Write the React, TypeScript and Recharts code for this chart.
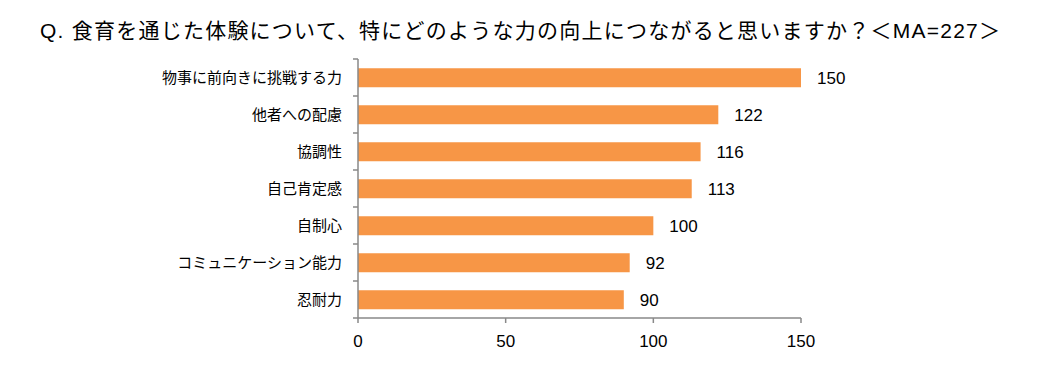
import React from "react";
import { Bar, BarChart, LabelList, XAxis, YAxis } from "recharts";

const title =
  "Q. 食育を通じた体験について、特にどのような力の向上につながると思いますか？＜MA=227＞";
const categories = [
  "物事に前向きに挑戦する力",
  "他者への配慮",
  "協調性",
  "自己肯定感",
  "自制心",
  "コミュニケーション能力",
  "忍耐力",
];
const counts = [150, 122, 116, 113, 100, 92, 90];
const xTicks = [0, 50, 100, 150];

const W = 1042;
const H = 370;
const xAxisH = 30;
const margin = { top: 59, right: 241, bottom: 22, left: 0 };
const axisW = 358;
const axisColor = "#898989";
const band = (H - margin.top - margin.bottom - xAxisH) / categories.length;

const data = categories.map((name, i) => ({ name, count: counts[i] }));

// Excel puts the category ticks between the bars, so draw them by hand
const CategoryTick = (props: any) => {
  const { y, payload, index } = props;
  const top = y - band / 2;
  const bottom = y + band / 2;
  return (
    <g>
      <line x1={axisW - 5} x2={axisW} y1={top} y2={top} stroke={axisColor} strokeWidth={1.5} />
      {index === categories.length - 1 && (
        <line x1={axisW - 5} x2={axisW} y1={bottom} y2={bottom} stroke={axisColor} strokeWidth={1.5} />
      )}
      <text
        x={axisW - 16}
        y={y}
        dy="0.35em"
        textAnchor="end"
        fontSize={15}
        fill="#000"
        fontFamily='"Noto Sans CJK JP", sans-serif'
      >
        {payload.value}
      </text>
    </g>
  );
};

export default function App() {
  return (
    <div
      style={{
        position: "absolute",
        left: 0,
        top: 0,
        width: W,
        height: H,
        background: "#fff",
      }}
    >
      <svg
        width={W}
        height={50}
        style={{ position: "absolute", left: 0, top: 0 }}
      >
        <text
          x={40}
          y={38}
          fontSize={21}
          fill="#000"
          textLength={960}
          lengthAdjust="spacing"
          fontFamily='"Liberation Sans", "Noto Sans CJK JP", sans-serif'
        >
          {title}
        </text>
      </svg>
      <div style={{ position: "absolute", left: 0, top: 0 }}>
        <BarChart
          width={W}
          height={H}
          data={data}
          layout="vertical"
          margin={margin}
          barCategoryGap="25%"
        >
          <XAxis
            type="number"
            domain={[0, 150]}
            ticks={xTicks}
            height={xAxisH}
            axisLine={{ stroke: axisColor, strokeWidth: 1.5 }}
            tickLine={{ stroke: axisColor, strokeWidth: 1.5 }}
            tickSize={5}
            tickMargin={12}
            tick={{
              fill: "#000",
              fontSize: 17,
              fontFamily: '"Liberation Sans", sans-serif',
            }}
          />
          <YAxis
            type="category"
            dataKey="name"
            width={axisW}
            axisLine={{ stroke: axisColor, strokeWidth: 1.5 }}
            tickLine={false}
            tick={<CategoryTick />}
            interval={0}
          />
          <Bar dataKey="count" fill="#F79646" isAnimationActive={false}>
            <LabelList
              dataKey="count"
              position="right"
              offset={16}
              fill="#000"
              fontSize={17}
              fontFamily='"Liberation Sans", sans-serif'
            />
          </Bar>
        </BarChart>
      </div>
    </div>
  );
}
